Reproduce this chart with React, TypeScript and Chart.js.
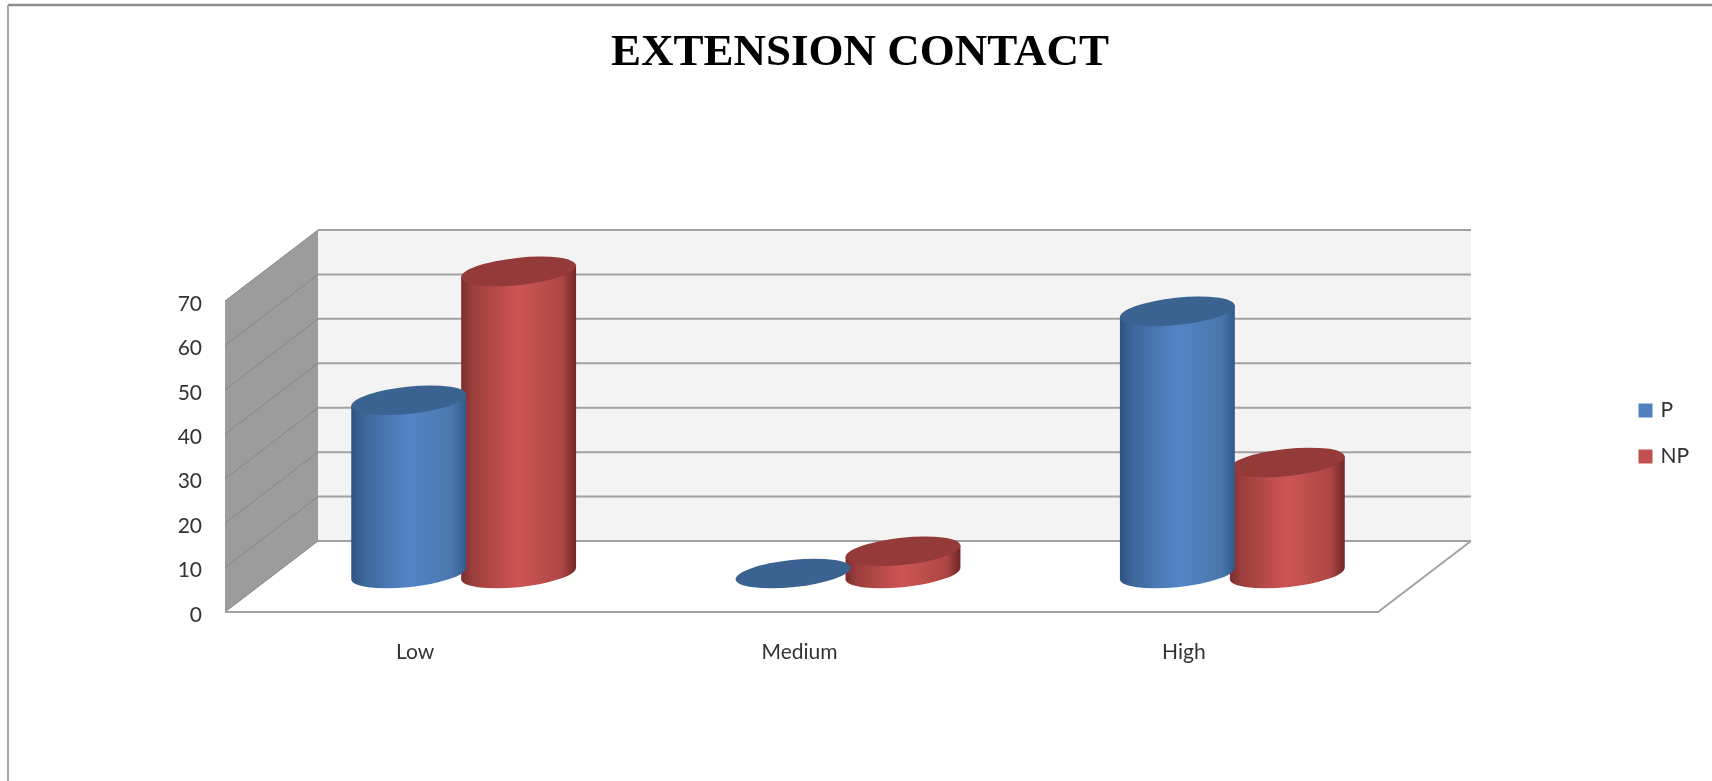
import React, { useEffect, useRef } from "react";
import { Chart, registerables, BarController, BarElement } from "chart.js";

// Chart content
const categories = ["Low", "Medium", "High"];
const seriesP = [39, 0, 59];
const seriesNP = [68, 5, 25];
const yMax = 70;
const yStep = 10;

// Depth of the pseudo-3D box: how far the back wall sits from the front plane
const DEPTH_X = 93;
const DEPTH_Y = 71;
// Where the cylinders stand inside that depth
const STAND_X = 46.5;
const STAND_Y = 38.5;
const CAP_RATIO = 0.235;
const CAP_TILT = (-6 * Math.PI) / 180;

const BLUE = "#4f81bd";
const RED = "#c0504d";
const SHADES: Record<string, { stops: [number, string][]; cap: string }> = {
  [BLUE]: {
    stops: [
      [0, "#2c5280"],
      [0.1, "#3d6698"],
      [0.5, "#5285c8"],
      [0.88, "#4a78ad"],
      [1, "#2f5a8c"],
    ],
    cap: "#3a6391",
  },
  [RED]: {
    stops: [
      [0, "#7a2e2d"],
      [0.1, "#9c3e3c"],
      [0.5, "#cd5554"],
      [0.88, "#ad4644"],
      [1, "#6e2625"],
    ],
    cap: "#943a38",
  },
};

// A bar painted as a cylinder standing inside the box depth
class CylinderElement extends BarElement {
  static id = "cylinder";

  draw(ctx: CanvasRenderingContext2D) {
    const { x, y, base, width } = (this as any).getProps(["x", "y", "base", "width"]);
    const shade = SHADES[(this as any).options.backgroundColor];
    const cx = x + STAND_X;
    const top = y - STAND_Y;
    const bottom = base - STAND_Y;
    const a = width / 2 / Math.cos(CAP_TILT);
    const b = a * CAP_RATIO;
    // parametric angle of the rightmost point of the tilted ellipse
    const t0 = Math.atan((-b * Math.tan(CAP_TILT)) / a);
    const edgeX = a * Math.cos(t0) * Math.cos(CAP_TILT) - b * Math.sin(t0) * Math.sin(CAP_TILT);
    const edgeY = a * Math.cos(t0) * Math.sin(CAP_TILT) + b * Math.sin(t0) * Math.cos(CAP_TILT);

    ctx.save();
    if (bottom - top > 0.5) {
      const body = ctx.createLinearGradient(cx - edgeX, 0, cx + edgeX, 0);
      shade.stops.forEach(([at, color]) => body.addColorStop(at, color));
      ctx.fillStyle = body;
      ctx.beginPath();
      ctx.moveTo(cx - edgeX, top - edgeY);
      ctx.lineTo(cx - edgeX, bottom - edgeY);
      ctx.ellipse(cx, bottom, a, b, CAP_TILT, t0 + Math.PI, t0, true);
      ctx.lineTo(cx + edgeX, top + edgeY);
      ctx.closePath();
      ctx.fill();
    }
    ctx.fillStyle = shade.cap;
    ctx.beginPath();
    ctx.ellipse(cx, top, a, b, CAP_TILT, 0, Math.PI * 2);
    ctx.fill();
    ctx.restore();
  }
}

class CylinderController extends BarController {
  static id = "cylinder";
  static defaults = { ...BarController.defaults, dataElementType: "cylinder" };
}

Chart.register(...registerables, CylinderController, CylinderElement);

// Outer frame, box walls, floor and wall gridlines
const boxPlugin = {
  id: "box",
  beforeLayout(chart: any) {
    const legend = chart.legend;
    const fit = Object.getPrototypeOf(legend).fit;
    legend.fit = function () {
      fit.call(this);
      this.width = 334;
    };
  },
  afterLayout(chart: any) {
    const legend = chart.legend;
    legend.left = 1616;
    legend.right = 1712;
    legend.top = 375;
    legend.bottom = 500;
  },
  beforeDraw(chart: any) {
    const { ctx, width, height } = chart;
    ctx.save();
    ctx.strokeStyle = "#8c8c8c";
    ctx.lineWidth = 2.5;
    ctx.beginPath();
    ctx.moveTo(8, 5);
    ctx.lineTo(width, 5);
    ctx.stroke();
    ctx.strokeStyle = "#a8a8a8";
    ctx.lineWidth = 2;
    ctx.beginPath();
    ctx.moveTo(8, 5);
    ctx.lineTo(8, height);
    ctx.stroke();
    ctx.restore();
  },
  beforeDatasetsDraw(chart: any) {
    const { ctx, chartArea, scales } = chart;
    const { left, right, bottom } = chartArea;
    const yScale = scales.y;
    const backLeft = left + DEPTH_X;
    const backRight = right + DEPTH_X;
    const backFloor = bottom - DEPTH_Y;
    const backTop = yScale.getPixelForValue(yMax) - DEPTH_Y;

    ctx.save();
    ctx.fillStyle = "#f3f3f3";
    ctx.fillRect(backLeft, backTop, backRight - backLeft, backFloor - backTop);

    ctx.fillStyle = "#9c9c9c";
    ctx.beginPath();
    ctx.moveTo(left, yScale.getPixelForValue(yMax));
    ctx.lineTo(backLeft, backTop);
    ctx.lineTo(backLeft, backFloor);
    ctx.lineTo(left, bottom);
    ctx.closePath();
    ctx.fill();

    yScale.ticks.forEach((tick: any) => {
      const py = yScale.getPixelForValue(tick.value);
      ctx.strokeStyle = "#a2a2a2";
      ctx.lineWidth = 2;
      ctx.beginPath();
      ctx.moveTo(backLeft, py - DEPTH_Y);
      ctx.lineTo(backRight, py - DEPTH_Y);
      ctx.stroke();
      ctx.strokeStyle = "#868686";
      ctx.lineWidth = 1;
      ctx.beginPath();
      ctx.moveTo(left, py);
      ctx.lineTo(backLeft, py - DEPTH_Y);
      ctx.stroke();
    });

    ctx.strokeStyle = "#a2a2a2";
    ctx.lineWidth = 2;
    ctx.beginPath();
    ctx.moveTo(left, bottom);
    ctx.lineTo(right, bottom);
    ctx.lineTo(backRight, backFloor);
    ctx.stroke();
    ctx.restore();
  },
};

export default function App() {
  const canvasRef = useRef<HTMLCanvasElement>(null);

  useEffect(() => {
    const chart = new Chart(canvasRef.current as HTMLCanvasElement, {
      type: "cylinder" as any,
      data: {
        labels: categories,
        datasets: [
          { label: "P", data: seriesP, backgroundColor: BLUE, borderWidth: 0, clip: false },
          { label: "NP", data: seriesNP, backgroundColor: RED, borderWidth: 0, clip: false },
        ],
      },
      plugins: [boxPlugin],
      options: {
        animation: false,
        responsive: false,
        events: [],
        layout: { padding: { left: 8 } },
        categoryPercentage: 0.572,
        barPercentage: 1.045,
        plugins: {
          tooltip: { enabled: false },
          title: {
            display: true,
            text: "EXTENSION CONTACT",
            color: "#000000",
            font: { family: "Liberation Serif", size: 45, weight: "bold" },
            padding: { top: 26, bottom: 221 },
          },
          legend: {
            position: "right",
            align: "start",
            labels: {
              usePointStyle: true,
              pointStyle: "rect",
              boxWidth: 9,
              boxHeight: 14,
              padding: 25,
              color: "#333333",
              font: { family: "Lato", size: 21 },
            },
          },
        },
        scales: {
          x: {
            grid: { display: false },
            border: { display: false },
            ticks: {
              color: "#333333",
              font: { family: "Lato", size: 21 },
              padding: 20,
              maxRotation: 0,
              labelOffset: -2,
            },
            afterFit(scale: any) {
              scale.height = 169;
            },
          },
          y: {
            min: 0,
            max: yMax,
            grid: { display: false },
            border: { display: false },
            ticks: {
              stepSize: yStep,
              color: "#333333",
              font: { family: "Lato", size: 21 },
              padding: 15,
              labelOffset: 3,
            },
            afterFit(scale: any) {
              scale.width = 217;
            },
          },
        },
      } as any,
    });
    return () => chart.destroy();
  }, []);

  return (
    <div style={{ position: "absolute", left: 0, top: 0, width: 1712, height: 781 }}>
      <canvas ref={canvasRef} width={1712} height={781} style={{ display: "block" }} />
    </div>
  );
}
